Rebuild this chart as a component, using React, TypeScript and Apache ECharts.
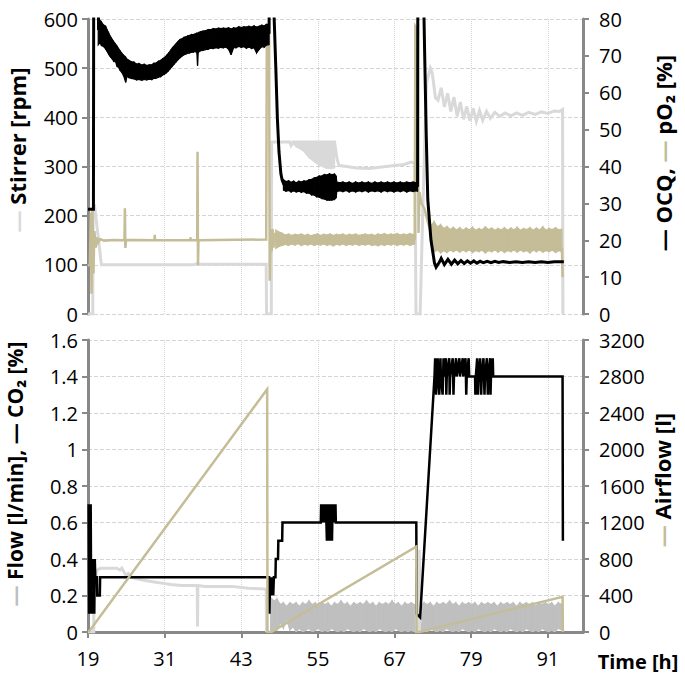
import { useEffect, useRef } from "react";
import * as echarts from "echarts";

const T0 = 19;
const T_MAX = 96.5;
const T_STEP = 12;

const FONT = "'Open Sans', 'DejaVu Sans', sans-serif";
const C_STIR = "#d9d9d9";
const C_BLACK = "#000000";
const C_TAN = "#c4bd97";
const C_FLOW = "#bfbfbf";
const C_AXIS = "#898989";
const C_GRID = "#d4d4d4";

type P = [number, number];
type B = [number, number, number];

// ---------- top panel: Stirrer [rpm] (left axis) ----------
const stirrer: P[] = [
  [19.0, 0], [19.75, 0], [19.8, 215], [20.05, 218], [21.1, 100], [30, 100], [35.5, 100], [36.0, 102], [36.5, 101],
  [46.9, 101], [46.95, 0], [47.7, 0], [47.75, 350], [50.6, 350], [50.8, 343], [51.1, 350], [57.6, 350], [58.0, 315],
  [58.3, 302], [59.5, 300], [61, 297], [63, 296], [65, 299], [67, 302], [68.5, 304], [69.6, 309], [70.2, 307],
  [70.35, 0], [71.0, 0], [71.5, 250], [72.0, 470], [72.6, 500], [72.9, 490], [73.4, 440], [73.8, 435], [74.3, 460],
  [74.8, 421], [75.3, 449], [75.8, 412], [76.3, 441], [76.8, 402], [77.3, 431], [77.8, 396], [78.3, 422], [78.8, 393],
  [79.3, 418], [79.8, 392], [80.3, 414], [80.8, 394], [81.4, 412], [82.0, 398], [82.7, 410], [83.5, 402], [84.3, 409],
  [85.2, 403], [86.1, 409], [87.0, 404], [88.0, 410], [89.0, 406], [90.0, 411], [91.0, 408], [92.0, 413], [92.8, 412],
  [93.3, 416], [93.35, 0],
];
const stirrerBand: B[] = [
  [51.0, 348, 350], [51.6, 340, 350], [52.6, 333, 350], [53.1, 326, 350], [53.6, 318, 350], [54.4, 310, 350],
  [55.2, 303, 350], [56.25, 297, 350], [57.0, 296, 350], [57.6, 297, 350],
];

// ---------- top panel: OCQ [%] (right axis) ----------
const ocqA: P[] = [[19.0, 28.4], [19.85, 28.4], [19.9, 100], [20.55, 100], [20.65, 77]];
const ocqBandA: B[] = [
  [20.6, 73.0, 80.5], [20.9, 73.6, 79.5], [21.1, 72.8, 79.2], [21.4, 72.6, 78.4], [21.75, 71.9, 78.1], [22.0, 71.2, 77.0],
  [22.2, 70.6, 76.4], [22.45, 69.9, 75.4], [22.7, 69.4, 74.7], [23.0, 68.6, 73.9], [23.3, 68.5, 73.2], [23.55, 67.1, 72.6],
  [23.8, 66.9, 71.9], [24.05, 66.0, 71.3], [24.3, 65.5, 70.7], [24.6, 64.5, 70.1], [24.9, 62.8, 69.6], [25.1, 64.4, 69.1],
  [25.4, 64.1, 68.8], [25.8, 63.9, 68.4], [26.2, 63.8, 68.3], [26.6, 63.5, 67.8], [27.0, 63.6, 67.9], [27.4, 63.4, 67.5],
  [27.8, 63.6, 67.7], [28.2, 63.5, 67.4], [28.6, 63.7, 67.6], [29.0, 63.6, 67.6], [29.3, 63.9, 68.0], [29.6, 63.9, 68.0],
  [30.0, 64.2, 68.5], [30.4, 64.4, 68.8], [30.7, 64.8, 69.2], [31.0, 65.1, 69.6], [31.3, 65.5, 70.1], [31.6, 66.0, 70.7],
  [31.9, 66.6, 71.4], [32.2, 67.2, 72.1], [32.5, 67.8, 72.7], [32.8, 68.4, 73.3], [33.1, 69.0, 73.9], [33.4, 69.5, 74.4],
  [33.7, 69.9, 74.6], [34.0, 70.3, 75.0], [34.3, 70.5, 75.1], [34.6, 70.7, 75.4], [34.9, 70.8, 75.5], [35.2, 71.0, 75.8],
  [35.5, 71.0, 75.8], [35.8, 71.2, 76.0], [36.05, 70.8, 76.1], [36.15, 67.3, 75.9], [36.25, 70.9, 76.3], [36.6, 71.4, 76.5],
  [37.0, 71.5, 76.7], [37.4, 71.7, 76.8], [37.8, 71.8, 77.1], [38.2, 72.1, 77.1], [38.6, 72.0, 77.4], [39.0, 72.2, 77.3],
  [39.4, 72.1, 77.5], [39.8, 72.3, 77.4], [40.2, 72.2, 77.5], [40.6, 72.4, 77.4], [41.0, 71.8, 77.6], [41.4, 70.3, 77.3],
  [41.8, 72.2, 77.6], [42.2, 72.2, 77.5], [42.6, 72.6, 77.9], [43.0, 72.3, 77.7], [43.4, 72.5, 77.9], [43.8, 72.1, 77.8],
  [44.2, 72.4, 78.0], [44.6, 72.0, 77.8], [45.0, 72.2, 78.1], [45.4, 70.8, 77.8], [45.8, 71.8, 78.0], [46.2, 72.5, 78.3],
  [46.6, 72.4, 78.1], [46.9, 72.9, 78.5], [47.35, 73.0, 78.6],
];
const ocqB: P[] = [
  [47.35, 76], [47.4, 100], [48.05, 100], [48.15, 80], [48.4, 67], [48.65, 53], [48.9, 44], [49.2, 38], [49.4, 36.3], [49.7, 35],
];
const ocqBandB: B[] = [
  [49.6, 33.6, 36.4], [50.0, 33.3, 35.9], [50.4, 33.5, 36.1], [50.8, 33.1, 35.7], [51.2, 33.4, 36.0], [51.6, 33.1, 35.6],
  [52.0, 33.3, 36.0], [52.4, 33.0, 35.8], [52.8, 33.2, 36.1], [53.2, 32.8, 36.0], [53.6, 32.8, 36.4], [54.0, 32.3, 36.5],
  [54.4, 32.3, 36.9], [54.8, 31.8, 37.0], [55.2, 31.7, 37.4], [55.6, 31.3, 37.4], [56.0, 31.2, 37.8], [56.4, 30.9, 37.7],
  [56.8, 30.9, 38.0], [57.2, 30.9, 37.8], [57.6, 31.1, 37.9], [57.85, 31.5, 37.4], [57.95, 33.2, 35.8], [58.4, 33.4, 35.6],
  [58.9, 33.2, 35.8], [59.4, 33.5, 35.5], [59.9, 33.1, 35.8], [60.4, 33.4, 35.4], [60.9, 33.1, 35.8], [61.4, 33.4, 35.5],
  [61.9, 33.2, 35.8], [62.4, 33.5, 35.5], [62.9, 33.1, 35.8], [63.4, 33.4, 35.4], [63.9, 33.2, 35.8], [64.4, 33.4, 35.5],
  [64.9, 33.1, 35.8], [65.4, 33.5, 35.5], [65.9, 33.2, 35.8], [66.4, 33.4, 35.5], [66.9, 33.1, 35.8], [67.4, 33.4, 35.5],
  [67.9, 33.2, 35.8], [68.4, 33.5, 35.5], [68.9, 33.1, 35.8], [69.4, 33.4, 35.6], [69.9, 33.2, 35.8], [70.3, 33.4, 35.6],
  [70.6, 33.3, 35.9],
];
const ocqC: P[] = [
  [70.6, 34.5], [70.65, 100], [71.4, 100], [71.7, 71.5], [71.95, 49], [72.2, 31], [72.7, 20], [73.25, 13.8], [73.5, 12.7],
  [74.0, 14.0], [74.3, 15.1], [74.8, 13.4], [75.35, 14.8], [75.9, 13.5], [76.4, 14.6], [76.9, 13.6], [77.4, 14.5],
  [77.9, 13.7], [78.4, 14.4], [78.9, 13.8], [79.4, 14.4], [79.9, 13.8], [80.4, 14.3], [80.9, 13.9], [81.5, 14.3],
  [82.1, 13.9], [82.7, 14.3], [83.3, 14.0], [84, 14.2], [85, 14.0], [86, 14.2], [87, 14.0], [88, 14.2], [89, 14.0],
  [90, 14.2], [91, 14.0], [92, 14.2], [93.5, 14.2],
];

// ---------- top panel: pO2 [%] (right axis) ----------
const po2A: P[] = [
  [19.0, 13], [19.3, 13.5], [19.45, 27.5], [19.55, 5.5], [19.7, 28.5], [19.85, 11], [20.0, 22.5], [20.2, 18], [20.4, 20.8],
  [20.6, 19.4], [20.9, 20.3], [21.5, 19.9], [23, 20.1], [24.7, 20], [24.78, 28.7], [24.85, 17.9], [24.95, 20.1], [29.4, 20],
  [29.45, 21.5], [29.5, 20], [35.0, 20], [35.05, 20.8], [35.1, 20], [36.1, 20], [36.15, 44], [36.22, 13.3], [36.3, 20],
  [46.9, 20.2], [47.0, 76], [47.35, 76], [47.45, 9], [47.6, 23], [47.75, 17], [47.9, 23], [48.05, 18], [48.2, 22], [48.4, 19.5],
];
const po2Band1: B[] = [
  [48.4, 17.8, 22.8], [48.9, 18.3, 22.2], [49.4, 18.6, 21.9], [49.9, 18.9, 21.4], [50.4, 18.6, 21.7], [50.9, 19.0, 21.3],
  [51.4, 18.7, 21.6], [51.9, 19.1, 21.4], [52.4, 18.6, 21.7], [52.9, 18.9, 21.3], [53.4, 18.7, 21.6], [53.9, 19.0, 21.2],
  [54.4, 18.6, 21.5], [54.9, 18.9, 21.7], [55.4, 18.7, 21.3], [55.9, 19.0, 21.6], [56.4, 18.6, 21.4], [56.9, 18.9, 21.7],
  [57.4, 18.5, 21.3], [57.9, 18.9, 21.6], [58.4, 18.7, 21.4], [58.9, 19.0, 21.7], [59.4, 18.6, 21.3], [59.9, 18.9, 21.6],
  [60.4, 18.7, 21.4], [60.9, 19.0, 21.7], [61.4, 18.6, 21.3], [61.9, 18.9, 21.5], [62.4, 18.7, 21.7], [62.9, 19.0, 21.4],
  [63.4, 18.6, 21.6], [63.9, 18.8, 21.3], [64.4, 18.5, 21.7], [64.9, 18.9, 21.5], [65.4, 18.6, 21.8], [65.9, 18.9, 21.4],
  [66.4, 18.7, 21.7], [66.9, 19.0, 21.5], [67.4, 18.6, 21.8], [67.9, 18.9, 21.4], [68.4, 18.7, 21.7], [68.9, 19.0, 21.5],
  [69.4, 18.6, 21.8], [69.9, 18.9, 21.5], [70.15, 19.0, 21.2],
];
const po2B: P[] = [
  [70.15, 20], [70.25, 78], [70.6, 77], [70.75, 22], [70.9, 33], [71.2, 30], [71.7, 28.5], [72.2, 25], [72.7, 22],
];
const po2Band2: B[] = [
  [72.7, 19.0, 24.0], [73.2, 16.8, 25.0], [73.7, 17.4, 23.6], [74.2, 16.6, 24.2], [74.7, 17.2, 23.2], [75.2, 16.7, 23.7],
  [75.7, 17.3, 22.9], [76.2, 16.9, 23.5], [76.7, 17.4, 22.8], [77.2, 16.8, 23.4], [77.7, 17.3, 22.7], [78.2, 16.9, 23.3],
  [78.7, 17.4, 22.8], [79.2, 16.7, 23.5], [79.7, 17.2, 22.7], [80.2, 16.9, 23.2], [80.7, 17.3, 22.8], [81.2, 16.6, 23.6],
  [81.7, 17.2, 22.9], [82.2, 16.9, 23.3], [82.7, 17.4, 22.7], [83.2, 16.8, 23.2], [83.7, 17.3, 22.8], [84.2, 16.7, 23.4],
  [84.7, 17.2, 22.7], [85.2, 16.9, 23.3], [85.7, 17.4, 22.8], [86.2, 16.8, 23.5], [86.7, 17.3, 22.7], [87.2, 16.9, 23.2],
  [87.7, 17.2, 22.9], [88.2, 16.6, 23.4], [88.7, 17.3, 22.7], [89.2, 16.9, 23.3], [89.7, 17.4, 22.8], [90.2, 16.8, 23.6],
  [90.7, 17.2, 22.7], [91.2, 16.9, 23.2], [91.7, 17.3, 22.9], [92.2, 16.7, 23.4], [92.7, 17.2, 22.8], [93.2, 16.9, 23.0],
];
const po2C: P[] = [[93.2, 18], [93.3, 10]];

// ---------- bottom panel: Flow [l/min] (left axis) ----------
const flowA: P[] = [
  [19.0, 0], [19.9, 0], [19.95, 0.3], [20.2, 0.31], [20.4, 0.34], [21.0, 0.35], [23.5, 0.35], [24.0, 0.34], [24.3, 0.35],
  [24.6, 0.33], [25.0, 0.31], [25.3, 0.32], [25.8, 0.3], [26.8, 0.29], [28.4, 0.28], [31.0, 0.265], [32.0, 0.26],
  [33.6, 0.255], [36.1, 0.255], [36.15, 0.03], [36.2, 0.255], [37.3, 0.25], [41.5, 0.25], [44.1, 0.24], [46.9, 0.235], [46.95, 0],
];
const flowBand1: B[] = [
  [47.6, 0.0, 0.19], [48.1, 0.02, 0.17], [48.6, 0.01, 0.18], [49.1, 0.05, 0.15], [49.6, 0.02, 0.16], [50.1, 0.07, 0.14],
  [50.6, 0.01, 0.16], [51.1, 0.03, 0.15], [51.6, 0.0, 0.16], [52.1, 0.02, 0.14], [52.6, 0.0, 0.16], [53.1, 0.01, 0.15],
  [53.6, 0.02, 0.17], [54.1, 0.0, 0.15], [54.6, 0.01, 0.16], [55.1, 0.02, 0.14], [55.6, 0.0, 0.16], [56.1, 0.01, 0.15],
  [56.6, 0.0, 0.16], [57.1, 0.02, 0.14], [57.6, 0.01, 0.16], [58.1, 0.0, 0.15], [58.6, 0.01, 0.17], [59.1, 0.0, 0.15],
  [59.6, 0.02, 0.16], [60.1, 0.01, 0.14], [60.6, 0.0, 0.16], [61.1, 0.01, 0.15], [61.6, 0.0, 0.16], [62.1, 0.02, 0.15],
  [62.6, 0.01, 0.17], [63.1, 0.0, 0.15], [63.6, 0.01, 0.16], [64.1, 0.0, 0.14], [64.6, 0.02, 0.16], [65.1, 0.01, 0.15],
  [65.6, 0.0, 0.16], [66.1, 0.01, 0.15], [66.6, 0.0, 0.17], [67.1, 0.02, 0.15], [67.6, 0.01, 0.16], [68.1, 0.0, 0.14],
  [68.6, 0.01, 0.16], [69.1, 0.0, 0.15], [69.6, 0.01, 0.16], [70.1, 0.0, 0.15], [70.35, 0.0, 0.13],
];
const flowB: P[] = [[70.35, 0.13], [70.4, 0.0], [70.85, 0.0], [70.9, 0.45], [71.0, 0.45], [71.05, 0.05], [71.15, 0.12]];
const flowBand2: B[] = [
  [71.15, 0.0, 0.14], [71.6, 0.01, 0.16], [72.1, 0.0, 0.15], [72.6, 0.02, 0.16], [73.1, 0.01, 0.14], [73.6, 0.0, 0.16],
  [74.1, 0.01, 0.15], [74.6, 0.0, 0.16], [75.1, 0.02, 0.15], [75.6, 0.01, 0.17], [76.1, 0.0, 0.15], [76.6, 0.01, 0.16],
  [77.1, 0.0, 0.14], [77.6, 0.02, 0.16], [78.1, 0.01, 0.15], [78.6, 0.0, 0.16], [79.1, 0.01, 0.15], [79.6, 0.0, 0.16],
  [80.1, 0.02, 0.14], [80.6, 0.01, 0.16], [81.1, 0.0, 0.15], [81.6, 0.01, 0.16], [82.1, 0.0, 0.15], [82.6, 0.02, 0.16],
  [83.1, 0.01, 0.14], [83.6, 0.0, 0.16], [84.1, 0.01, 0.15], [84.6, 0.0, 0.16], [85.1, 0.02, 0.15], [85.6, 0.01, 0.16],
  [86.1, 0.0, 0.14], [86.6, 0.01, 0.16], [87.1, 0.0, 0.15], [87.6, 0.02, 0.16], [88.1, 0.01, 0.15], [88.6, 0.0, 0.16],
  [89.1, 0.01, 0.14], [89.6, 0.0, 0.16], [90.1, 0.02, 0.15], [90.6, 0.01, 0.16], [91.1, 0.0, 0.15], [91.6, 0.01, 0.16],
  [92.1, 0.0, 0.14], [92.6, 0.02, 0.16], [93.3, 0.01, 0.15],
];

// ---------- bottom panel: CO2 [%] (left axis) ----------
const co2: P[] = [
  [19.1, 0.7], [19.18, 0.1], [19.26, 0.7], [19.34, 0.1], [19.42, 0.7], [19.5, 0.1], [19.58, 0.4], [19.66, 0.1], [19.74, 0.4],
  [19.82, 0.1], [19.9, 0.4], [19.98, 0.1], [20.06, 0.4], [20.14, 0.3], [20.4, 0.3], [20.45, 0.2], [20.85, 0.2], [20.9, 0.3],
  [47.35, 0.3], [47.4, 0.1], [47.5, 0.3], [47.6, 0.2], [47.7, 0.3], [47.8, 0.2], [47.9, 0.3], [48.0, 0.2], [48.1, 0.3],
  [48.35, 0.3], [48.4, 0.4], [48.75, 0.4], [48.8, 0.5], [49.4, 0.5], [49.45, 0.6], [55.45, 0.6], [55.5, 0.7], [55.65, 0.6],
  [55.75, 0.7], [55.9, 0.6], [56.0, 0.7], [56.15, 0.6], [56.25, 0.7], [56.4, 0.5], [56.5, 0.7], [56.6, 0.5], [56.7, 0.7],
  [56.8, 0.5], [56.9, 0.7], [57.0, 0.5], [57.1, 0.7], [57.2, 0.5], [57.3, 0.7], [57.42, 0.6], [57.52, 0.7], [57.65, 0.6],
  [57.75, 0.7], [57.8, 0.6], [70.4, 0.6], [70.45, 0.1], [71.0, 0.08], [73.25, 1.4],
  [73.35, 1.5], [73.42, 1.4], [73.5, 1.3], [73.58, 1.4], [73.75, 1.5], [73.82, 1.4], [74.0, 1.3], [74.07, 1.4],
  [74.18, 1.5], [74.25, 1.4], [74.52, 1.3], [74.6, 1.4], [74.66, 1.5], [74.73, 1.4], [75.05, 1.5], [75.1, 1.3],
  [75.17, 1.4], [75.57, 1.5], [75.62, 1.3], [75.7, 1.4], [76.1, 1.5], [76.17, 1.4], [76.22, 1.3], [76.3, 1.4],
  [76.62, 1.5], [76.7, 1.4], [77.15, 1.5], [77.22, 1.4], [77.67, 1.5], [77.74, 1.4], [78.1, 1.5], [78.17, 1.4],
  [78.22, 1.3], [78.3, 1.4], [78.6, 1.5], [78.68, 1.4], [79.6, 1.4], [79.65, 1.3], [79.72, 1.4], [79.93, 1.5],
  [80.0, 1.4], [80.05, 1.3], [80.12, 1.4], [80.4, 1.5], [80.47, 1.4], [80.56, 1.3], [80.63, 1.4], [80.92, 1.5],
  [80.99, 1.4], [81.08, 1.3], [81.15, 1.4], [81.45, 1.5], [81.52, 1.4], [81.6, 1.3], [81.67, 1.4], [81.97, 1.5],
  [82.02, 1.3], [82.09, 1.4], [82.37, 1.5], [82.44, 1.4], [93.3, 1.4], [93.35, 0.5],
];

// ---------- bottom panel: Airflow [l] (right axis) ----------
const airflow: P[] = [
  [19.1, 0], [47.05, 2660], [47.1, 0], [47.7, 0], [70.38, 935], [70.45, 0], [70.9, 0], [93.3, 385], [93.35, 0],
];

const shiftP = (arr: P[]) => arr.map(([t, v]) => [t - T0, v]);

function lineSeries(data: P[], color: string, width: number, xi: number, yi: number, z: number) {
  return {
    type: "line",
    data: shiftP(data),
    xAxisIndex: xi,
    yAxisIndex: yi,
    symbol: "none",
    showSymbol: false,
    lineStyle: { color, width, join: "miter" },
    itemStyle: { color },
    z,
    silent: true,
    clip: true,
  };
}

function bandSeries(band: B[], color: string, xi: number, yi: number, z: number) {
  return {
    type: "custom",
    xAxisIndex: xi,
    yAxisIndex: yi,
    data: band.map(([t, lo, hi]) => [t - T0, lo, hi]),
    encode: { x: 0, y: [1, 2] },
    z,
    silent: true,
    clip: true,
    renderItem: (params: any, api: any) => {
      const i = params.dataIndex;
      if (i >= band.length - 1) return { type: "group", children: [] };
      const a = band[i];
      const b = band[i + 1];
      const pts = [
        api.coord([a[0] - T0, a[2]]),
        api.coord([b[0] - T0, b[2]]),
        api.coord([b[0] - T0, b[1]]),
        api.coord([a[0] - T0, a[1]]),
      ];
      return {
        type: "polygon",
        shape: { points: pts },
        style: { fill: color, stroke: color, lineWidth: 1.2 },
      };
    },
  };
}

const labelStyle = { color: "#000", fontSize: 20, fontFamily: FONT };
const axisLine = { show: true, lineStyle: { color: C_AXIS, width: 3 } };
const axisTick = { show: true, inside: false, length: 6, lineStyle: { color: C_AXIS, width: 2 } };
const plain = (v: number) => String(Math.round(v * 10) / 10);

function xAxisDef(gridIndex: number, showLabels: boolean) {
  return {
    type: "value",
    gridIndex,
    min: 0,
    max: T_MAX - T0,
    interval: T_STEP,
    axisLine: showLabels ? axisLine : { show: false },
    axisTick: showLabels ? axisTick : { show: false },
    axisLabel: {
      show: showLabels,
      ...labelStyle,
      margin: 16,
      showMaxLabel: false,
      formatter: (v: number) => String(Math.round(v + T0)),
    },
    splitLine: { show: true, lineStyle: { color: C_GRID, type: "dotted", width: 1 } },
  };
}

function yAxisDef(gridIndex: number, position: string, max: number, interval: number, grid: boolean) {
  return {
    type: "value",
    gridIndex,
    position,
    min: 0,
    max,
    interval,
    axisLine,
    axisTick,
    axisLabel: { ...labelStyle, margin: position === "left" ? 10 : 16, formatter: plain },
    splitLine: { show: grid, lineStyle: { color: C_GRID, type: "dashed", width: 1 } },
  };
}

function nameText(x: number, y: number, rotate: boolean, text: string, size: number) {
  const seg = (fill: string) => ({ fill, fontSize: size, fontWeight: "bold", fontFamily: FONT });
  return {
    type: "text",
    x,
    y,
    rotation: rotate ? Math.PI / 2 : 0,
    style: {
      text,
      fontSize: size,
      fontWeight: "bold",
      fontFamily: FONT,
      fill: "#000",
      align: "center",
      verticalAlign: "middle",
      rich: {
        s: seg(C_STIR),
        k: seg(C_BLACK),
        t: seg(C_TAN),
        f: seg(C_FLOW),
      },
    },
  };
}

export default function App() {
  const ref = useRef<HTMLDivElement>(null);
  useEffect(() => {
    if (!ref.current) return;
    const chart = echarts.init(ref.current, null, { renderer: "svg" });
    chart.setOption({
      animation: false,
      backgroundColor: "#ffffff",
      grid: [
        { left: 88, top: 19, width: 495, height: 295 },
        { left: 88, top: 340, width: 495, height: 292 },
      ],
      xAxis: [xAxisDef(0, false), xAxisDef(1, true)],
      yAxis: [
        yAxisDef(0, "left", 600, 100, true),
        yAxisDef(0, "right", 80, 10, false),
        yAxisDef(1, "left", 1.6, 0.2, true),
        yAxisDef(1, "right", 3200, 400, false),
      ],
      series: [
        lineSeries(stirrer, C_STIR, 3, 0, 0, 2),
        bandSeries(stirrerBand, C_STIR, 0, 0, 2),
        lineSeries(po2A, C_TAN, 2.5, 0, 1, 3),
        bandSeries(po2Band1, C_TAN, 0, 1, 3),
        lineSeries(po2B, C_TAN, 2.5, 0, 1, 3),
        bandSeries(po2Band2, C_TAN, 0, 1, 3),
        lineSeries(po2C, C_TAN, 2.5, 0, 1, 3),
        lineSeries(ocqA, C_BLACK, 3, 0, 1, 4),
        bandSeries(ocqBandA, C_BLACK, 0, 1, 4),
        lineSeries(ocqB, C_BLACK, 3, 0, 1, 4),
        bandSeries(ocqBandB, C_BLACK, 0, 1, 4),
        lineSeries(ocqC, C_BLACK, 3, 0, 1, 4),

        lineSeries(flowA, C_STIR, 3, 1, 2, 2),
        bandSeries(flowBand1, C_FLOW, 1, 2, 2),
        lineSeries(flowB, C_STIR, 2.5, 1, 2, 2),
        bandSeries(flowBand2, C_FLOW, 1, 2, 2),
        lineSeries(co2, C_BLACK, 2.5, 1, 2, 3),
        lineSeries(airflow, C_TAN, 2.5, 1, 3, 4),
      ],
      graphic: [
        nameText(17, 150, true, "{s|—} Stirrer [rpm]", 22),
        nameText(663, 153, true, "{k|—} OCQ, {t|—} pO₂ [%]", 22),
        nameText(15, 474, true, "{f|—} Flow [l/min], {k|—} CO₂ [%]", 21),
        nameText(662, 480, true, "{t|—} Airflow [l]", 22),
        nameText(638, 661, false, "Time [h]", 20),
      ],
    });
    return () => chart.dispose();
  }, []);
  return (
    <div
      ref={ref}
      style={{ position: "fixed", left: 0, top: 0, width: 685, height: 680, background: "#fff" }}
    />
  );
}
